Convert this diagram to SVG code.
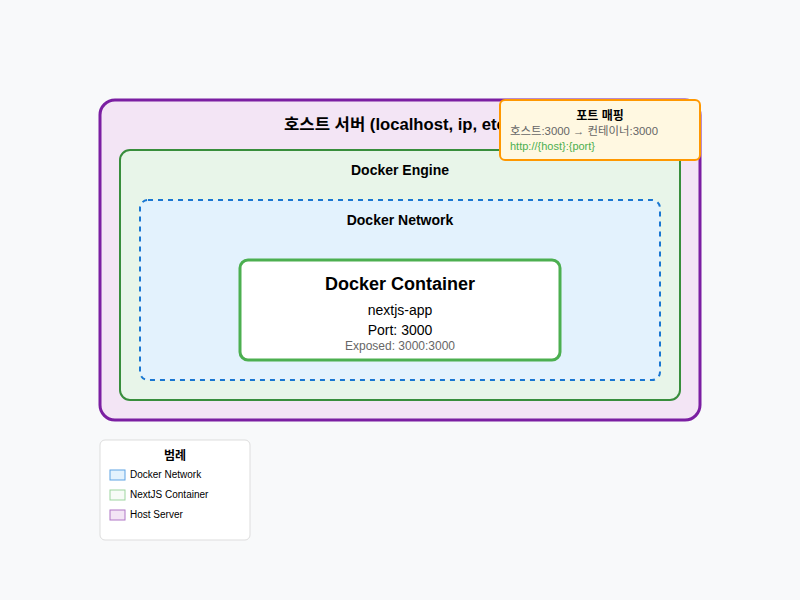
<svg xmlns="http://www.w3.org/2000/svg" width="800" height="600" viewBox="0 0 800 600">
<style>
text{font-family:"Liberation Sans","Noto Sans CJK KR",Arial,sans-serif;}
.b{font-weight:bold;}
.c{text-anchor:middle;}
</style>
<rect x="0" y="0" width="800" height="600" fill="#f8f9fa"/>
<g id="host">
<rect x="100" y="100" width="600" height="320" rx="15" fill="#f3e5f5" stroke="#7b1fa2" stroke-width="3"/>
<text x="400" y="130" class="b c" font-size="16" fill="#000" textLength="232" lengthAdjust="spacingAndGlyphs">호스트 서버 (localhost, ip, etc.)</text>
</g>
<g id="engine">
<rect x="120" y="150" width="560" height="250" rx="10" fill="#e8f5e9" stroke="#388e3c" stroke-width="2"/>
<text x="400" y="175" class="b c" font-size="14" fill="#000">Docker Engine</text>
</g>
<g id="network">
<rect x="140" y="200" width="520" height="180" rx="8" fill="#e3f2fd" stroke="#1976d2" stroke-width="2" stroke-dasharray="5,5"/>
<text x="400" y="225" class="b c" font-size="14" fill="#000">Docker Network</text>
</g>
<g id="container">
<rect x="240" y="260" width="320" height="100" rx="8" fill="#ffffff" stroke="#4caf50" stroke-width="3"/>
<text x="400" y="290" class="b c" font-size="18" fill="#000">Docker Container</text>
<text x="400" y="315" class="c" font-size="14" fill="#000">nextjs-app</text>
<text x="400" y="335" class="c" font-size="14" fill="#000">Port: 3000</text>
<text x="400" y="350" class="c" font-size="12" fill="#666">Exposed: 3000:3000</text>
</g>
<g id="portmap">
<rect x="500" y="100" width="200" height="60" rx="5" fill="#fff8e1" stroke="#ff9800" stroke-width="2"/>
<text x="600" y="120" class="b c" font-size="12" fill="#000">포트 매핑</text>
<text x="510" y="135" font-size="11" fill="#666" textLength="148" lengthAdjust="spacingAndGlyphs">호스트:3000 → 컨테이너:3000</text>
<text x="510" y="150" font-size="11" fill="#4caf50">http://{host}:{port}</text>
</g>
<g id="legend">
<rect x="100" y="440" width="150" height="100" rx="5" fill="#ffffff" stroke="#dddddd" stroke-width="1"/>
<text x="175" y="460" class="b c" font-size="12" fill="#000">범례</text>
<rect x="110" y="470" width="15" height="10" fill="#e3f2fd" stroke="#5ea3e3"/>
<text x="130" y="478" font-size="10" fill="#000">Docker Network</text>
<rect x="110" y="490" width="15" height="10" fill="#f7fbf7" stroke="#9dd59f"/>
<text x="130" y="498" font-size="10" fill="#000">NextJS Container</text>
<rect x="110" y="510" width="15" height="10" fill="#f3e5f5" stroke="#b077c6"/>
<text x="130" y="518" font-size="10" fill="#000">Host Server</text>
</g>
<g id="connectors"></g>
</svg>
